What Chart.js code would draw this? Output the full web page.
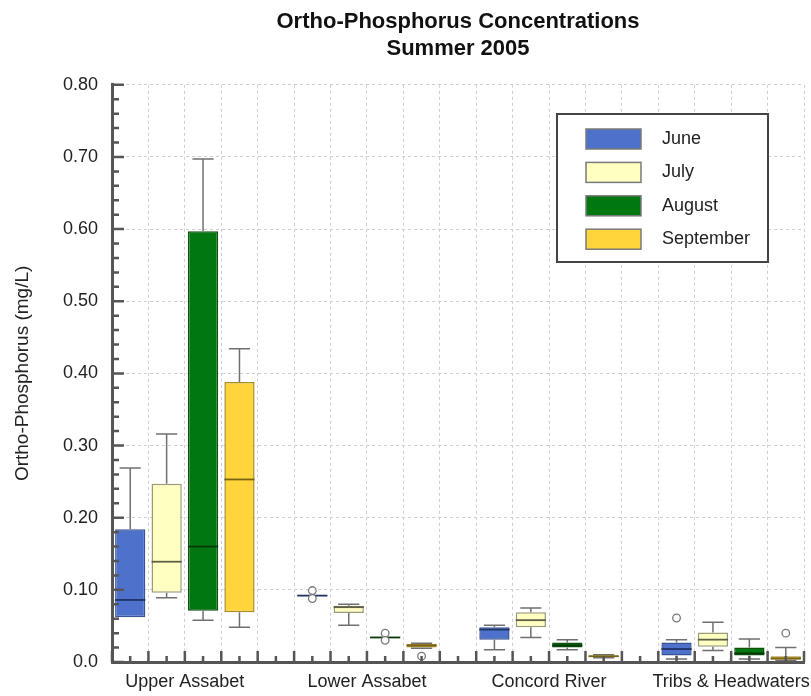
<!DOCTYPE html>
<html>
<head>
<meta charset="utf-8">
<title>Ortho-Phosphorus Concentrations</title>
<script src="https://cdn.jsdelivr.net/npm/chart.js@4"></script>
<style>
    html, body { margin: 0; padding: 0; width: 811px; height: 696px; overflow: hidden; background: #fff; }
    canvas { display: block; }
</style>
</head>
<body>
<canvas id="opChart" width="916" height="696"></canvas>
<script>
// Sites along the x axis and the months in each group
const sites = ['Upper Assabet', 'Lower Assabet', 'Concord River', 'Tribs & Headwaters'];
const months = ['June', 'July', 'August', 'September'];

// Box statistics per site (mg/L)
const juneLow      = [0.062, 0.092, 0.017, 0.004];
const juneQ1       = [0.062, 0.092, 0.031, 0.009];
const juneMedian   = [0.086, 0.092, 0.045, 0.018];
const juneQ3       = [0.184, 0.092, 0.048, 0.027];
const juneHigh     = [0.269, 0.092, 0.051, 0.031];
const juneOutliers = [[], [0.099, 0.088], [], [0.061]];

const julyLow      = [0.089, 0.051, 0.034, 0.016];
const julyQ1       = [0.096, 0.068, 0.048, 0.021];
const julyMedian   = [0.139, 0.076, 0.058, 0.031];
const julyQ3       = [0.247, 0.078, 0.069, 0.041];
const julyHigh     = [0.316, 0.080, 0.075, 0.055];
const julyOutliers = [[], [], [], []];

const augLow       = [0.058, 0.034, 0.017, 0.004];
const augQ1        = [0.071, 0.034, 0.020, 0.009];
const augMedian    = [0.160, 0.034, 0.023, 0.012];
const augQ3        = [0.597, 0.034, 0.027, 0.020];
const augHigh      = [0.697, 0.034, 0.031, 0.032];
const augOutliers  = [[], [0.040, 0.030], [], []];

const sepLow       = [0.048, 0.019, 0.006, 0.002];
const sepQ1        = [0.069, 0.020, 0.007, 0.003];
const sepMedian    = [0.253, 0.023, 0.008, 0.005];
const sepQ3        = [0.388, 0.025, 0.009, 0.008];
const sepHigh      = [0.434, 0.026, 0.010, 0.020];
const sepOutliers  = [[], [0.008], [], [0.040]];

const yTickStep = 0.1;
const yMax = 0.8;

const monthStats = [
    { low: juneLow, q1: juneQ1, median: juneMedian, q3: juneQ3, high: juneHigh, outliers: juneOutliers },
    { low: julyLow, q1: julyQ1, median: julyMedian, q3: julyQ3, high: julyHigh, outliers: julyOutliers },
    { low: augLow,  q1: augQ1,  median: augMedian,  q3: augQ3,  high: augHigh,  outliers: augOutliers },
    { low: sepLow,  q1: sepQ1,  median: sepMedian,  q3: sepQ3,  high: sepHigh,  outliers: sepOutliers },
];

var fillColors   = ['#4e72cc', '#ffffc2', '#00780f', '#ffd53b'];
var edgeColors   = ['#3a5394', '#9a9a78', '#0c500c', '#a88c28'];
var medianColors = ['#1f3266', '#5f5f45', '#083808', '#7a6414'];
var fontFamily = '"Liberation Sans", Arial, Helvetica, sans-serif';

// one empty slot between site groups
const slotsPerSite = months.length + 1;
const slotOf = (s, m) => s * slotsPerSite + m;
const lastSlot = slotOf(sites.length - 1, months.length - 1);

const boxDatasets = months.map((name, m) => ({
    type: 'bar',
    label: name,
    monthIndex: m,
    data: sites.map((site, s) => ({ x: slotOf(s, m), y: [monthStats[m].q1[s], monthStats[m].q3[s]] })),
    backgroundColor: fillColors[m],
    borderColor: edgeColors[m],
    borderWidth: 1.5,
    borderSkipped: false,
    grouped: false,
    categoryPercentage: 1,
    barPercentage: 0.83,
    medianColor: medianColors[m],
}));

const outlierPoints = [];
monthStats.forEach((st, m) => {
    st.outliers.forEach((vals, s) => {
        vals.forEach(v => outlierPoints.push({ x: slotOf(s, m), y: v }));
    });
});

// whiskers and median line for each box
const boxWhiskers = {
    id: 'boxWhiskers',
    afterDatasetDraw(chart, args) {
        const ds = chart.data.datasets[args.index];
        if (ds.monthIndex === undefined) return;
        const st = monthStats[ds.monthIndex];
        const yScale = chart.scales.y;
        const ctx = chart.ctx;
        ctx.save();
        args.meta.data.forEach((bar, s) => {
            const { x, width } = bar.getProps(['x', 'width'], true);
            const cap = width * 0.35;
            const pQ1 = yScale.getPixelForValue(st.q1[s]);
            const pQ3 = yScale.getPixelForValue(st.q3[s]);
            const pLow = yScale.getPixelForValue(st.low[s]);
            const pHigh = yScale.getPixelForValue(st.high[s]);
            const pMed = yScale.getPixelForValue(st.median[s]);
            ctx.strokeStyle = '#707070';
            ctx.lineWidth = 1.5;
            ctx.beginPath();
            if (st.high[s] > st.q3[s]) {
                ctx.moveTo(x, pQ3); ctx.lineTo(x, pHigh);
                ctx.moveTo(x - cap, pHigh); ctx.lineTo(x + cap, pHigh);
            }
            if (st.low[s] < st.q1[s]) {
                ctx.moveTo(x, pQ1); ctx.lineTo(x, pLow);
                ctx.moveTo(x - cap, pLow); ctx.lineTo(x + cap, pLow);
            }
            ctx.stroke();
            ctx.strokeStyle = ds.medianColor;
            ctx.lineWidth = 1.8;
            ctx.beginPath();
            ctx.moveTo(x - width / 2, pMed);
            ctx.lineTo(x + width / 2, pMed);
            ctx.stroke();
        });
        ctx.restore();
    }
};

// tick marks pointing into the plot, major + minor
const axisTicks = {
    id: 'axisTicks',
    afterDatasetsDraw(chart) {
        const { ctx, chartArea, scales: { x, y } } = chart;
        ctx.save();
        ctx.strokeStyle = '#555';
        ctx.lineWidth = 2.5;
        ctx.beginPath();
        const minorPerMajor = 5;
        const nMinor = Math.round(yMax / yTickStep) * minorPerMajor;
        for (let i = 0; i <= nMinor; i++) {
            const py = y.getPixelForValue(i * yTickStep / minorPerMajor);
            const len = i % minorPerMajor === 0 ? 12 : 7;
            ctx.moveTo(chartArea.left, py);
            ctx.lineTo(chartArea.left + len, py);
        }
        for (let v = -0.5; v <= lastSlot + 0.5; v += 0.5) {
            const px = x.getPixelForValue(v);
            const len = Number.isInteger(v) ? 6 : 11;
            ctx.moveTo(px, chartArea.bottom);
            ctx.lineTo(px, chartArea.bottom - len);
        }
        ctx.stroke();
        ctx.restore();
    }
};

const legendBox = {
    id: 'legendBox',
    afterDraw(chart) {
        const ctx = chart.ctx;
        const left = 557, top = 114, w = 211, h = 148;
        ctx.save();
        ctx.fillStyle = '#fff';
        ctx.fillRect(left, top, w, h);
        ctx.strokeStyle = '#444';
        ctx.lineWidth = 2;
        ctx.strokeRect(left, top, w, h);
        ctx.font = '18px ' + fontFamily;
        ctx.textBaseline = 'middle';
        months.forEach((name, m) => {
            const cy = top + 25 + m * 33.4;
            ctx.fillStyle = fillColors[m];
            ctx.fillRect(left + 29, cy - 10, 55, 20);
            ctx.strokeStyle = '#7a7a7a';
            ctx.lineWidth = 1.5;
            ctx.strokeRect(left + 29, cy - 10, 55, 20);
            ctx.fillStyle = '#222';
            ctx.fillText(name, left + 105, cy);
        });
        ctx.restore();
    }
};

const ctx = document.getElementById('opChart').getContext('2d');
new Chart(ctx, {
    type: 'bar',
    data: {
        datasets: [
            {
                type: 'scatter',
                label: 'Outliers',
                order: -1,
                data: outlierPoints,
                pointRadius: 3.8,
                pointBackgroundColor: '#fff',
                pointBorderColor: '#777',
                pointBorderWidth: 1.3,
            },
            ...boxDatasets
        ]
    },
    options: {
        responsive: false,
        animation: false,
        layout: { padding: 0 },
        plugins: {
            legend: { display: false },
            tooltip: { enabled: false },
            title: {
                display: true,
                text: ['Ortho-Phosphorus Concentrations', 'Summer 2005'],
                color: '#111',
                font: { family: fontFamily, size: 22, weight: 'bold', lineHeight: 1.2 },
                padding: { top: 9, bottom: 23 }
            }
        },
        scales: {
            x: {
                type: 'linear',
                min: -0.5,
                max: lastSlot + 0.5,
                offset: false,
                grid: { offset: false, color: '#cfcfcf', lineWidth: 1, drawTicks: false },
                border: { color: '#555', width: 3, dash: [3, 3] },
                afterBuildTicks: scale => {
                    const ticks = [];
                    for (let v = -0.5; v <= lastSlot + 0.5; v++) ticks.push({ value: v });
                    scale.ticks = ticks;
                },
                afterFit: scale => { scale.height = 34; },
                ticks: {
                    autoSkip: false,
                    maxRotation: 0,
                    padding: 9,
                    color: '#222',
                    font: { family: fontFamily, size: 18 },
                    callback: value => {
                        const s = sites.findIndex((site, i) => Math.abs(slotOf(i, 1.5) - value) < 0.01);
                        return s >= 0 ? sites[s] : '';
                    }
                }
            },
            y: {
                min: 0,
                max: yMax,
                grid: { color: '#cfcfcf', lineWidth: 1, drawTicks: false },
                border: { color: '#555', width: 3, dash: [3, 3] },
                afterFit: scale => { scale.width = 112; },
                ticks: {
                    stepSize: yTickStep,
                    padding: 14,
                    color: '#222',
                    font: { family: fontFamily, size: 18 },
                    callback: value => value === 0 ? '0.0' : value.toFixed(2)
                },
                title: {
                    display: true,
                    text: 'Ortho-Phosphorus (mg/L)',
                    color: '#222',
                    font: { family: fontFamily, size: 19 },
                    padding: { top: 11, bottom: 0 }
                }
            },
            // empty right-hand margin so the plot ends where the original does
            rightMargin: {
                type: 'linear',
                position: 'right',
                min: 0,
                max: 1,
                grid: { display: false },
                border: { display: false },
                ticks: { display: false },
                afterFit: scale => { scale.width = 112; }
            }
        }
    },
    plugins: [boxWhiskers, axisTicks, legendBox]
});
</script>
</body>
</html>
